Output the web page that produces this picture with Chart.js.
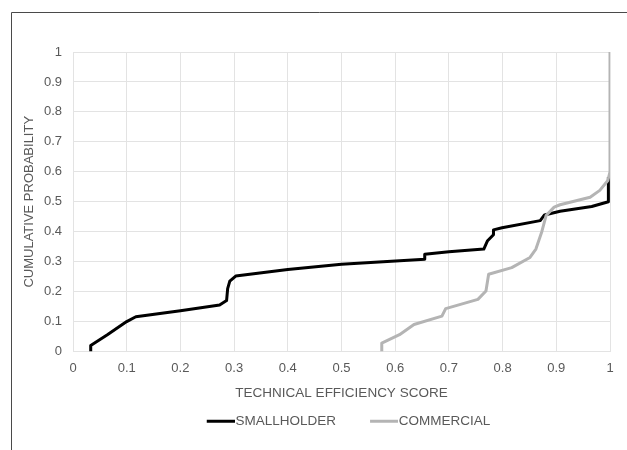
<!DOCTYPE html>
<html>
<head>
<meta charset="utf-8">
<script src="https://cdn.jsdelivr.net/npm/chart.js@4/dist/chart.umd.min.js"></script>
<style>
	body { margin: 0; background: #fff; }
	#wrap { position: absolute; left: 0; top: 0; width: 627px; height: 450px; }
</style>
</head>
<body>
<div id="wrap"><canvas id="chart" width="627" height="450"></canvas></div>
<script>
// technical efficiency score (x) vs cumulative probability (y)
var smallholderX = [0.033, 0.033, 0.064, 0.100, 0.117, 0.200, 0.273, 0.286, 0.288, 0.292, 0.303, 0.400, 0.500, 0.655, 0.655, 0.700, 0.765, 0.772, 0.783, 0.783, 0.799, 0.870, 0.878, 0.907, 0.966, 0.997, 0.997];
var smallholderY = [0.000, 0.020, 0.056, 0.100, 0.116, 0.136, 0.155, 0.170, 0.210, 0.235, 0.252, 0.274, 0.291, 0.308, 0.325, 0.333, 0.342, 0.370, 0.390, 0.406, 0.413, 0.437, 0.456, 0.468, 0.484, 0.500, 0.583];

var commercialX = [0.575, 0.575, 0.608, 0.635, 0.687, 0.694, 0.754, 0.769, 0.774, 0.817, 0.851, 0.862, 0.873, 0.881, 0.896, 0.907, 0.963, 0.981, 0.996, 1.000, 1.000];
var commercialY = [0.000, 0.028, 0.056, 0.090, 0.118, 0.143, 0.174, 0.202, 0.258, 0.280, 0.314, 0.342, 0.400, 0.454, 0.482, 0.490, 0.515, 0.538, 0.571, 0.600, 1.000];

var xTickLabels = ['0', '0.1', '0.2', '0.3', '0.4', '0.5', '0.6', '0.7', '0.8', '0.9', '1'];
var yTickLabels = ['0', '0.1', '0.2', '0.3', '0.4', '0.5', '0.6', '0.7', '0.8', '0.9', '1'];

var seriesNames = ['SMALLHOLDER', 'COMMERCIAL'];
var seriesColors = ['#000000', '#b4b4b4'];
var textColor = '#595959';
var gridColor = '#e3e3e3';
var fontSize = 13;

function toPoints(xs, ys) {
	var pts = [];
	for (var i = 0; i < xs.length; i++)
		pts.push({ x: xs[i], y: ys[i] });
	return pts;
}

// legend swatch: a 28px line at the right of the box, running up to the text
function lineSwatch(color) {
	var c = document.createElement('canvas');
	c.width = 48;
	c.height = 5;
	var g = c.getContext('2d');
	g.fillStyle = color;
	g.fillRect(20, 1, 28, 3);
	return c;
}

// thin frame on the top and left edges of the picture
var framePlugin = {
	id: 'frame',
	afterDraw: function(chart) {
		var ctx = chart.ctx;
		ctx.save();
		ctx.strokeStyle = '#4a4a4a';
		ctx.lineWidth = 1;
		ctx.beginPath();
		ctx.moveTo(11.5, 450);
		ctx.lineTo(11.5, 12.5);
		ctx.lineTo(627, 12.5);
		ctx.stroke();
		ctx.restore();
	}
};

Chart.defaults.font.family = '"Liberation Sans", Arial, sans-serif';
Chart.defaults.font.size = fontSize;
Chart.defaults.color = textColor;

new Chart(document.getElementById('chart'), {
	type: 'scatter',
	data: {
		datasets: [{
			label: seriesNames[0],
			data: toPoints(smallholderX, smallholderY),
			showLine: true,
			borderColor: seriesColors[0],
			backgroundColor: seriesColors[0],
			borderWidth: 3,
			borderJoinStyle: 'round',
			pointRadius: 0,
			tension: 0,
			order: 2
		}, {
			label: seriesNames[1],
			data: toPoints(commercialX, commercialY),
			showLine: true,
			borderColor: seriesColors[1],
			backgroundColor: seriesColors[1],
			borderWidth: 3,
			borderJoinStyle: 'round',
			pointRadius: 0,
			tension: 0,
			order: 1
		}]
	},
	options: {
		responsive: false,
		animation: false,
		layout: { padding: { left: 12, top: 52, right: 17, bottom: 12 } },
		plugins: {
			tooltip: { enabled: false },
			legend: {
				position: 'bottom',
				fullSize: false,
				labels: {
					usePointStyle: true,
					pointStyleWidth: 36,
					padding: 20,
					color: textColor,
					font: { size: 13.5 },
					generateLabels: function(chart) {
						return chart.data.datasets.map(function(ds, i) {
							return {
								text: ds.label,
								fontColor: textColor,
								strokeStyle: ds.borderColor,
								fillStyle: ds.borderColor,
								lineWidth: 0,
								pointStyle: lineSwatch(ds.borderColor),
								datasetIndex: i
							};
						});
					}
				}
			}
		},
		scales: {
			x: {
				type: 'linear',
				min: 0,
				max: 1,
				ticks: {
					stepSize: 0.1,
					padding: 9,
					maxRotation: 0,
					callback: function(v, i) { return xTickLabels[i]; }
				},
				grid: { color: gridColor, drawTicks: false },
				border: { color: gridColor },
				title: {
					display: true,
					text: 'TECHNICAL EFFICIENCY SCORE',
					color: textColor,
					font: { size: 13.5 },
					padding: { top: 0, bottom: -7 }
				},
				afterFit: function(scale) { scale.height = 43; }
			},
			y: {
				type: 'linear',
				min: 0,
				max: 1,
				ticks: {
					stepSize: 0.1,
					padding: 11,
					callback: function(v, i) { return yTickLabels[i]; }
				},
				grid: { color: gridColor, drawTicks: false },
				border: { color: gridColor },
				title: {
					display: true,
					text: 'CUMULATIVE PROBABILITY',
					color: textColor,
					font: { size: fontSize },
					padding: { top: 10, bottom: 0 }
				},
				afterFit: function(scale) { scale.width = 61; }
			}
		}
	},
	plugins: [framePlugin]
});
</script>
</body>
</html>
